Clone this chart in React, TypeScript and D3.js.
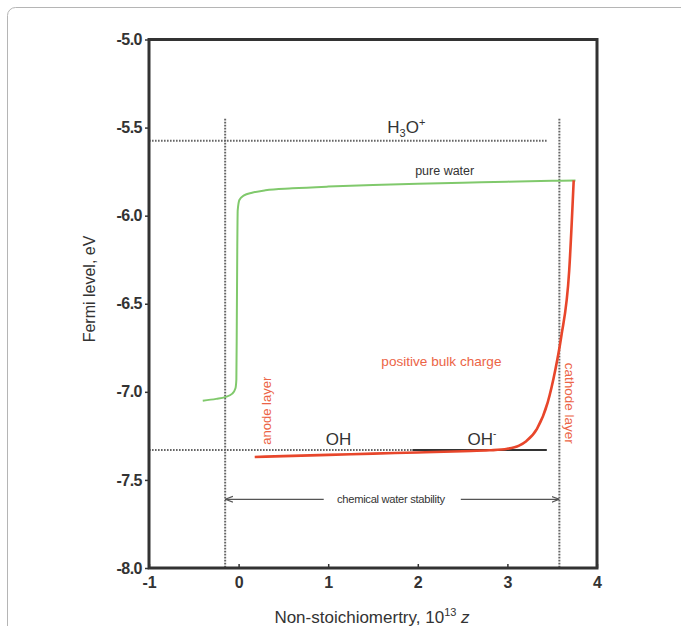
import * as d3 from "d3";
import { useEffect, useRef } from "react";

// values
const xTicks = [-1, 0, 1, 2, 3, 4];
const yTicks = [-5.0, -5.5, -6.0, -6.5, -7.0, -7.5, -8.0];

// green curve: "pure water"
const waterX = [-0.4, -0.25, -0.15, -0.07, -0.035, -0.025, -0.02, -0.015, -0.01, 0.01, 0.06, 0.15, 0.3, 0.6, 1.0, 1.5, 2.0, 2.5, 3.0, 3.5, 3.76];
const waterY = [-7.05, -7.04, -7.03, -7.01, -6.98, -6.93, -6.6, -6.2, -5.97, -5.91, -5.885, -5.87, -5.856, -5.845, -5.835, -5.826, -5.819, -5.813, -5.807, -5.802, -5.8];

// red curve: "positive bulk charge"
const chargeX = [0.18, 0.5, 1.0, 1.5, 2.0, 2.5, 2.8, 3.0, 3.13, 3.21, 3.33, 3.45, 3.535, 3.6, 3.69, 3.74];
const chargeY = [-7.37, -7.365, -7.358, -7.351, -7.344, -7.337, -7.332, -7.323, -7.305, -7.28, -7.21, -7.06, -6.875, -6.69, -6.31, -5.8];

// reference levels and stability window
const h3oLevel = -5.575;
const ohLevel = -7.33;
const stabilityLeft = -0.15;
const stabilityRight = 3.58;
const levelEnd = 3.44;
const ohSolidStart = 1.94;
const boundTop = -5.45;
const stabilityArrowY = -7.61;

const W = 681;
const H = 626;
const font = "'Liberation Sans', Arial, sans-serif";
const green = "#80c96c";
const red = "#e8462b";
const redText = "#ec6446";
const dotted = "#666";

const x = d3.scaleLinear().domain([-1, 4]).range([149, 597]);
const y = d3.scaleLinear().domain([-5, -8]).range([39.5, 568]);

export default function App() {
  const xAxisRef = useRef<SVGGElement>(null);
  const yAxisRef = useRef<SVGGElement>(null);

  useEffect(() => {
    const ax = d3.axisBottom(x).tickValues(xTicks).tickSizeInner(-4).tickSizeOuter(0).tickPadding(9)
      .tickFormat((d) => String(d));
    const gx = d3.select(xAxisRef.current).call(ax as any);
    gx.select(".domain").remove();
    gx.selectAll("line").attr("stroke", "#333").attr("stroke-width", 1.5);
    gx.selectAll("text").attr("font-size", 16).attr("font-family", font).attr("font-weight", "bold").attr("fill", "#333");

    const ay = d3.axisLeft(y).tickValues(yTicks).tickSizeInner(4).tickSizeOuter(0).tickPadding(3)
      .tickFormat((d) => (d as number).toFixed(1));
    const gy = d3.select(yAxisRef.current).call(ay as any);
    gy.select(".domain").remove();
    gy.selectAll("line").attr("stroke", "#333").attr("stroke-width", 1.5);
    gy.selectAll("text").attr("font-size", 16).attr("font-family", font).attr("font-weight", "bold").attr("fill", "#333")
      .attr("letter-spacing", "-0.5");
  }, []);

  const line = d3.line<number>().curve(d3.curveMonotoneX);
  const waterPath = line.x((_, i) => x(waterX[i])).y((_, i) => y(waterY[i]))(waterX);
  const chargePath = line.x((_, i) => x(chargeX[i])).y((_, i) => y(chargeY[i]))(chargeX);

  const dash = "1.6,1.4";

  return (
    <div style={{ position: "absolute", left: 0, top: 0 }}>
      <svg width={W} height={H} style={{ display: "block", background: "#fff" }}>
        <defs>
          <marker id="arrL" viewBox="0 0 8 8" refX="0" refY="4" markerWidth="6" markerHeight="6" orient="auto">
            <path d="M8,1 L0,4 L8,7" fill="none" stroke="#555" strokeWidth="1.2" />
          </marker>
          <marker id="arrR" viewBox="0 0 8 8" refX="8" refY="4" markerWidth="6" markerHeight="6" orient="auto">
            <path d="M0,1 L8,4 L0,7" fill="none" stroke="#555" strokeWidth="1.2" />
          </marker>
        </defs>

        {/* page frame */}
        <rect x={7.5} y={7.5} width={W + 20} height={H + 20} rx={8} fill="none" stroke="#b5b5b5" strokeWidth={1} />

        {/* dotted reference lines */}
        <line x1={x(-1)} x2={x(levelEnd)} y1={y(h3oLevel)} y2={y(h3oLevel)} stroke={dotted} strokeWidth={2} strokeDasharray={dash} />
        <line x1={x(-1)} x2={x(ohSolidStart)} y1={y(ohLevel)} y2={y(ohLevel)} stroke={dotted} strokeWidth={2} strokeDasharray={dash} />
        <line x1={x(ohSolidStart)} x2={x(levelEnd)} y1={y(ohLevel)} y2={y(ohLevel)} stroke="#333" strokeWidth={2} />
        <line x1={x(stabilityLeft)} x2={x(stabilityLeft)} y1={y(boundTop)} y2={y(-8)} stroke={dotted} strokeWidth={2} strokeDasharray={dash} />
        <line x1={x(stabilityRight)} x2={x(stabilityRight)} y1={y(boundTop)} y2={y(-8)} stroke={dotted} strokeWidth={2} strokeDasharray={dash} />

        {/* chemical water stability arrow */}
        <line x1={x(stabilityLeft)} x2={x(0.95)} y1={y(stabilityArrowY)} y2={y(stabilityArrowY)} stroke="#555" strokeWidth={1.3} markerStart="url(#arrL)" />
        <line x1={x(2.48)} x2={x(stabilityRight)} y1={y(stabilityArrowY)} y2={y(stabilityArrowY)} stroke="#555" strokeWidth={1.3} markerEnd="url(#arrR)" />
        <text x={x(1.7)} y={y(stabilityArrowY) + 4} textAnchor="middle" fontFamily={font} fontSize={11.2} fill="#333" letterSpacing="-0.3">
          chemical water stability
        </text>

        {/* curves */}
        <path d={waterPath ?? ""} fill="none" stroke={green} strokeWidth={2} />
        <path d={chargePath ?? ""} fill="none" stroke={red} strokeWidth={2.6} />

        {/* plot box */}
        <rect x={x(-1)} y={y(-5)} width={x(4) - x(-1)} height={y(-8) - y(-5)} fill="none" stroke="#333" strokeWidth={3} />

        <g ref={xAxisRef} transform={`translate(0,${y(-8)})`} />
        <g ref={yAxisRef} transform={`translate(${x(-1)},0)`} />

        {/* annotations */}
        <text x={x(1.66)} y={y(-5.53)} fontFamily={font} fontSize={17} fill="#333">
          H<tspan fontSize={11} dy={4}>3</tspan><tspan dy={-4}>O</tspan><tspan fontSize={11} dy={-7}>+</tspan>
        </text>
        <text x={x(2.3)} y={y(-5.77)} textAnchor="middle" fontFamily={font} fontSize={12.5} fill="#333">pure water</text>
        <text x={x(1.593)} y={y(-6.856)} fontFamily={font} fontSize={13.6} fill={redText}>positive bulk charge</text>
        <text transform={`translate(${x(0.36)},${y(-7.3)}) rotate(-90)`} fontFamily={font} fontSize={13} fill={redText}>anode layer</text>
        <text transform={`translate(${x(3.646)},${y(-6.835)}) rotate(90)`} fontFamily={font} fontSize={13.5} fill={redText}>cathode layer</text>
        <text x={x(0.972)} y={y(-7.3)} fontFamily={font} fontSize={17} fill="#333">OH</text>
        <text x={x(2.556)} y={y(-7.3)} fontFamily={font} fontSize={17} fill="#333">
          OH<tspan fontSize={10} dy={-8}>-</tspan>
        </text>

        {/* axis titles */}
        <text transform={`translate(95,289) rotate(-90)`} textAnchor="middle" fontFamily={font} fontSize={16} fill="#333">
          Fermi level, eV
        </text>
        <text x={372} y={623} textAnchor="middle" fontFamily={font} fontSize={17} fill="#333">
          Non-stoichiomertry, 10<tspan fontSize={11} dy={-7}>13</tspan><tspan dy={7}> </tspan><tspan fontStyle="italic">z</tspan>
        </text>
      </svg>
    </div>
  );
}
